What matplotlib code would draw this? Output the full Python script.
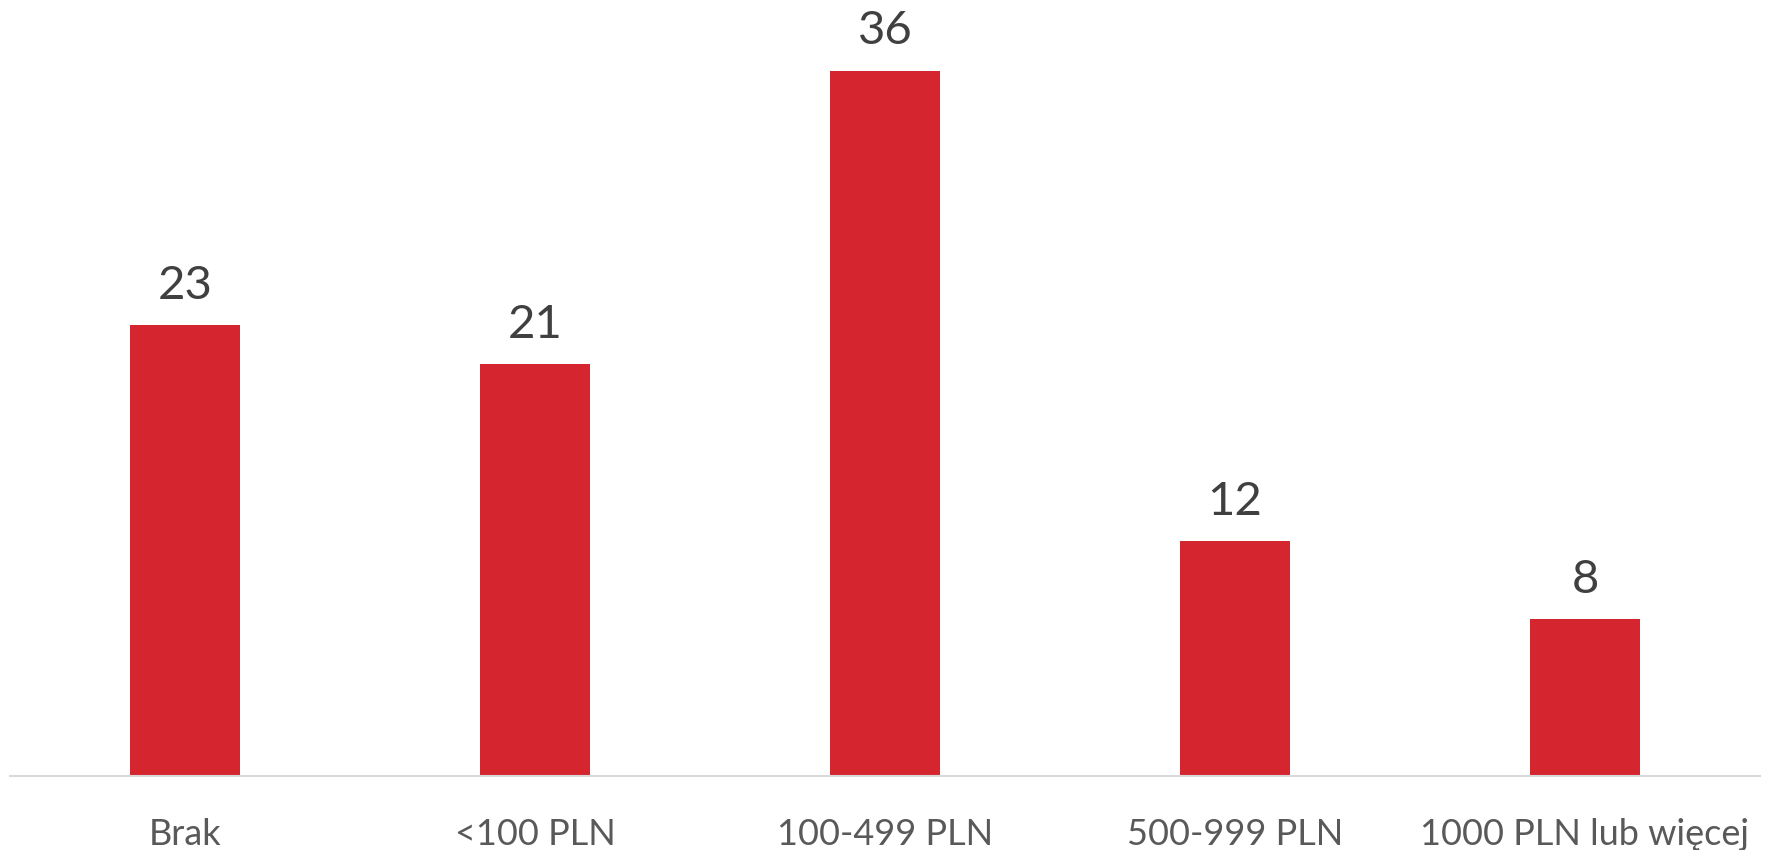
import matplotlib.pyplot as plt
import numpy as np

# spending brackets and share of respondents (%)
categories = ['Brak', '<100 PLN', '100-499 PLN', '500-999 PLN', '1000 PLN lub więcej']
values = [23, 21, 36, 12, 8]

plt.rcParams['font.family'] = ['Lato', 'DejaVu Sans']

fig = plt.figure(figsize=(17.75, 8.5), dpi=100)
ax = fig.add_axes([10 / 1775, 74 / 850, 1750 / 1775, 776 / 850])

x = np.arange(len(categories))
bars = ax.bar(x, values, width=0.314, color='#D52630')

ax.set_xlim(-0.5, len(categories) - 0.5)
ax.set_ylim(0, 39.6)

for rect, v in zip(bars, values):
    ax.annotate(str(v), (rect.get_x() + rect.get_width() / 2, v),
                xytext=(0, 13), textcoords='offset points',
                ha='center', va='bottom', fontsize=34, color='#404040')

ax.set_xticks(x)
ax.set_xticklabels(categories, fontsize=26, color='#595959')
ax.tick_params(axis='x', length=0, pad=30)
ax.set_yticks([])

for side in ['top', 'left', 'right']:
    ax.spines[side].set_visible(False)
ax.spines['bottom'].set_color('#D9D9D9')
ax.spines['bottom'].set_linewidth(1.5)

fig.savefig('out.png', dpi=100)
